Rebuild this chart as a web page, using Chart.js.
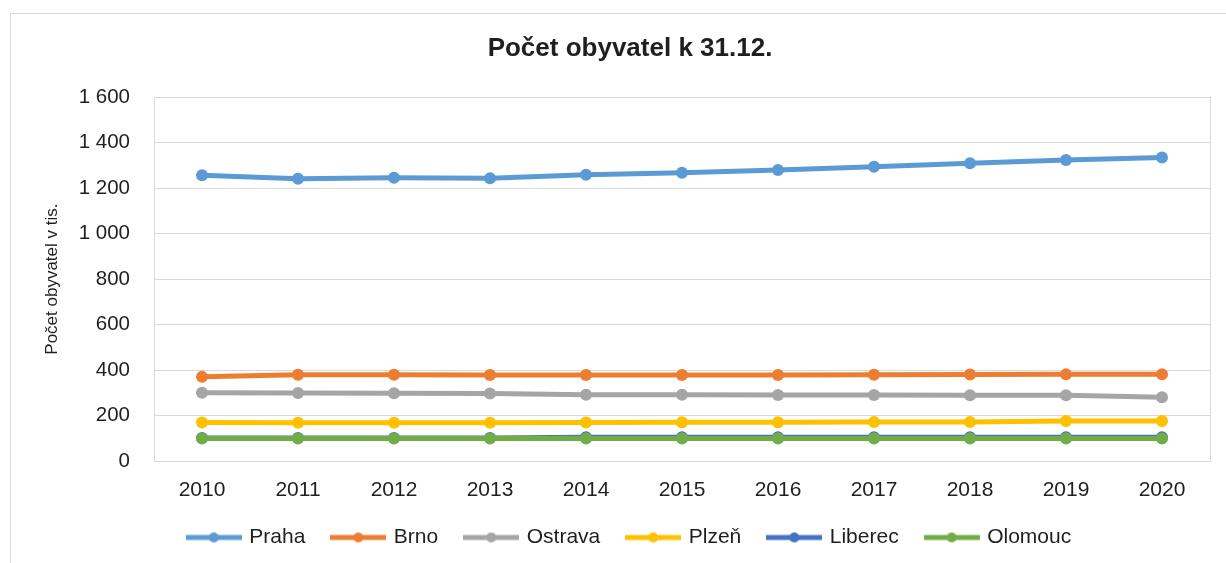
<!DOCTYPE html>
<html>
<head>
<meta charset="utf-8">
<script src="https://cdn.jsdelivr.net/npm/chart.js@4"></script>
<style>
  html, body { margin: 0; padding: 0; background: #fff; }
  #frame { position: absolute; left: 10px; top: 13px; width: 1240px; height: 600px; border: 1px solid #d9d9d9; }
  #wrap { position: absolute; left: 0; top: 0; width: 1226px; height: 563px; }
</style>
</head>
<body>
<div id="frame"></div>
<div id="wrap"><canvas id="popChart"></canvas></div>
<script>
// roky na ose x
const years = ["2010", "2011", "2012", "2013", "2014", "2015", "2016", "2017", "2018", "2019", "2020"];

// počet obyvatel v tis.
const praha   = [1257, 1241, 1246, 1243, 1259, 1268, 1280, 1294, 1309, 1324, 1335];
const brno    = [370, 379, 379, 378, 378, 378, 378, 379, 380, 381, 382];
const ostrava = [300, 299, 298, 297, 291, 291, 290, 290, 289, 289, 280];
const plzen   = [169, 168, 168, 168, 169, 170, 170, 171, 172, 176, 176];
const liberec = [101, 101, 101, 101, 104, 104, 104, 104, 104, 104, 104];
const olomouc = [99, 99, 99, 99, 99, 99, 99, 99, 99, 99, 99];

const cityNames  = ["Praha", "Brno", "Ostrava", "Plzeň", "Liberec", "Olomouc"];
const cityColors = ["#5b9bd5", "#ed7d31", "#a5a5a5", "#ffc000", "#4472c4", "#70ad47"];
const cityData   = [praha, brno, ostrava, plzen, liberec, olomouc];

const FONT = "'Liberation Sans', Arial, sans-serif";
const TEXT = "#1f1f1f";

// ikonka do legendy: čára s tečkou uprostřed
function legendIcon(color) {
    const c = document.createElement("canvas");
    c.width = 56;
    c.height = 14;
    const g = c.getContext("2d");
    g.strokeStyle = color;
    g.lineWidth = 5;
    g.beginPath();
    g.moveTo(0, 7);
    g.lineTo(56, 7);
    g.stroke();
    g.fillStyle = color;
    g.beginPath();
    g.arc(28, 7, 5, 0, Math.PI * 2);
    g.fill();
    return c;
}

const datasets = cityNames.map((name, i) => ({
    label: name,
    data: cityData[i],
    borderColor: cityColors[i],
    backgroundColor: cityColors[i],
    borderWidth: 5,
    pointRadius: 6,
    pointHoverRadius: 6,
    pointBorderWidth: 0,
    pointStyle: "circle",
    tension: 0,
    order: cityNames.length - 1 - i,
    legendIcon: legendIcon(cityColors[i])
}));

// rámeček kolem plochy grafu
const areaBorder = {
    id: "areaBorder",
    beforeDatasetsDraw(chart) {
        const { ctx, chartArea: a } = chart;
        ctx.save();
        ctx.strokeStyle = "#d9d9d9";
        ctx.lineWidth = 1;
        ctx.strokeRect(Math.round(a.left) + 0.5, Math.round(a.top) + 0.5, Math.round(a.right - a.left), Math.round(a.bottom - a.top));
        ctx.restore();
    }
};

const ctx = document.getElementById("popChart").getContext("2d");
const chart = new Chart(ctx, {
    type: "line",
    data: { labels: years, datasets: datasets },
    plugins: [areaBorder],
    options: {
        responsive: true,
        maintainAspectRatio: false,
        animation: false,
        events: [],
        layout: { padding: { left: 50, right: 16, top: 14, bottom: 5 } },
        plugins: {
            title: {
                display: true,
                text: "Počet obyvatel k 31.12.",
                color: TEXT,
                font: { family: FONT, size: 26, weight: "bold" },
                padding: { top: 19, bottom: 33 }
            },
            legend: {
                position: "bottom",
                labels: {
                    usePointStyle: true,
                    pointStyleWidth: 50,
                    padding: 28,
                    color: TEXT,
                    font: { family: FONT, size: 21 },
                    sort: (a, b) => a.datasetIndex - b.datasetIndex,
                    generateLabels(chart) {
                        return chart.data.datasets.map((ds, i) => ({
                            text: ds.label,
                            pointStyle: ds.legendIcon,
                            fillStyle: ds.borderColor,
                            strokeStyle: ds.borderColor,
                            lineWidth: 0,
                            fontColor: TEXT,
                            hidden: false,
                            datasetIndex: i
                        }));
                    }
                }
            },
            tooltip: { enabled: false }
        },
        scales: {
            x: {
                offset: true,
                grid: { display: false, drawTicks: false },
                border: { display: false },
                ticks: { color: TEXT, padding: 17, font: { family: FONT, size: 21 }, maxRotation: 0 },
                afterFit: (scale) => { scale.height = 38; }
            },
            y: {
                min: 0,
                max: 1600,
                ticks: {
                    stepSize: 200,
                    padding: 24,
                    color: TEXT,
                    font: { family: FONT, size: 20.5 },
                    callback: (v) => String(v).replace(/\B(?=(\d{3})+(?!\d))/g, " ")
                },
                grid: { color: "#d9d9d9", drawTicks: false, lineWidth: 1 },
                border: { display: false },
                title: {
                    display: true,
                    text: "Počet obyvatel v tis.",
                    color: TEXT,
                    font: { family: FONT, size: 17 },
                    padding: { top: -8, bottom: 0 }
                },
                afterFit: (scale) => { scale.width = 104; }
            }
        }
    }
});
</script>
</body>
</html>
